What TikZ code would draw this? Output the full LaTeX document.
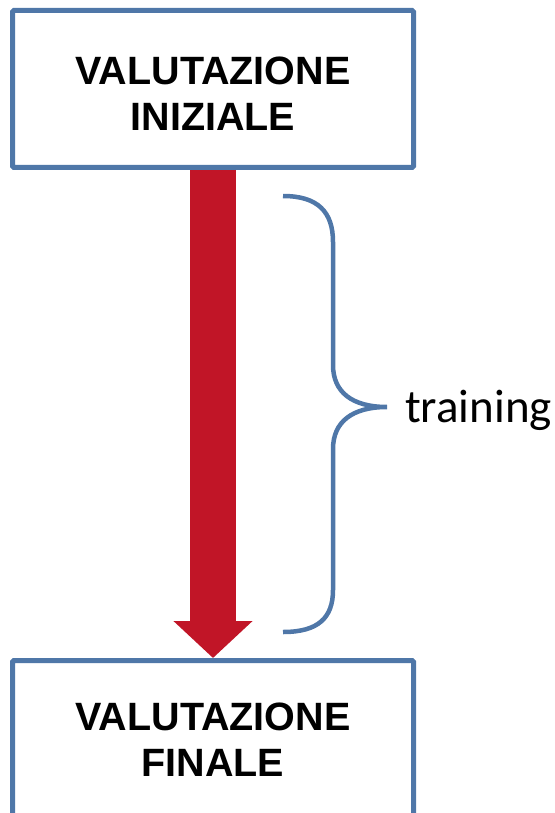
\documentclass[tikz,border=0pt]{standalone}
\usepackage{fontspec}
\setmainfont{Liberation Sans}
\newfontfamily\trainfont{Carlito}
\usetikzlibrary{arrows.meta}
\definecolor{boxblue}{RGB}{79,119,168}
\definecolor{arrowred}{RGB}{193,21,39}

\begin{document}
\begin{tikzpicture}[x=1pt,y=-1pt,
    evalbox/.style={draw=boxblue,line width=5pt,rounded corners=1.5pt,fill=white,
        minimum width=401pt,minimum height=157pt},
    evaltext/.style={align=center,inner sep=0pt,
        font=\bfseries\fontsize{39.5}{46}\selectfont}]
\useasboundingbox (0,0) rectangle (554,813);
\draw
    (213,89) node [evalbox] (init) {}
    +(0,5) node [evaltext] (inittext) {VALUTAZIONE\\INIZIALE};
\draw
    (213,739) node [evalbox] (final) {}
    +(0,1) node [evaltext] (finaltext) {VALUTAZIONE\\FINALE};
\draw [arrowred,line width=46pt,-{Triangle[width=77pt,length=37pt]}]
    (init.south) -- (final.north);
\draw [boxblue,line width=4.5pt]
    (283,196) .. controls (318,196) and (333,212) .. (333,242) -- (333,365)
    .. controls (333,392) and (352,407) .. (387,407) coordinate (tip)
    .. controls (352,407) and (333,422) .. (333,449) -- (333,590)
    .. controls (333,618) and (318,632) .. (283,632);
\node [anchor=west,inner sep=0pt,font=\trainfont\fontsize{47}{52}\selectfont]
    (train) at ([xshift=18pt,yshift=-3pt]tip) {training};
\end{tikzpicture}
\end{document}
